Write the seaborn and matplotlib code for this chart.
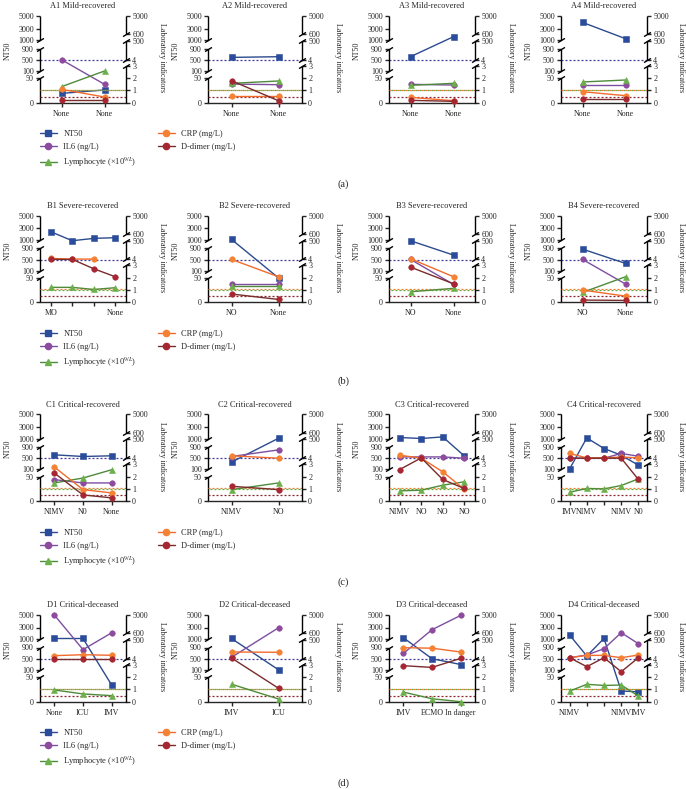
import numpy as np
import seaborn as sns
import matplotlib.pyplot as plt
from matplotlib.lines import Line2D
from matplotlib import transforms

sns.set_style("ticks")
plt.rcParams['font.family'] = ['Liberation Serif', 'DejaVu Serif']
plt.rcParams['mathtext.fontset'] = 'stix'

W, H = 686, 789
nan = np.nan

# --- DATA ---
titles = ["A1 Mild-recovered", "A2 Mild-recovered", "A3 Mild-recovered", "A4 Mild-recovered",
          "B1 Severe-recovered", "B2 Severe-recovered", "B3 Severe-recovered", "B4 Severe-recovered",
          "C1 Critical-recovered", "C2 Critical-recovered", "C3 Critical-recovered", "C4 Critical-recovered",
          "D1 Critical-deceased", "D2 Critical-deceased", "D3 Critical-deceased", "D4 Critical-deceased"]

xlabels = [["None", "None"], ["None", "None"], ["None", "None"], ["None", "None"],
           ["MO", "", "", "None"], ["NO", "None"], ["NO", "None"], ["NO", "None"],
           ["NIMV", "N0", "None"], ["NIMV", "NO"], ["NIMV", "NO", "NO", "NO"], ["IMV", "NIMV", "", "NIMV", "N0"],
           ["None", "ICU", "IMV"], ["IMV", "ICU"], ["IMV", "ECMO", "In danger"], ["NIMV", "", "", "NIMV", "IMV"]]

nt50 = [[19, 26], [588, 612], [612, 1600], [3980, 1260],
        [2400, 990, 1260, 1380], [1085, 50], [990, 658], [868, 363],
        [626, 567, 591], [367, 1070], [1205, 1034, 1308, 588], [122, 1137, 847, 612, 255],
        [1120, 1120, 34], [1120, 107], [1256, 507, 298], [1718, 602, 1137, 22, 20]]

crp = [[1.08, 0.46], [0.57, 0.57], [0.43, 0.16], [0.89, 0.57],
       [30, 12, 12, nan], [4.0, 2.08], [22, 2.08], [1.0, 0.51],
       [2.77, 0.94, 0.67], [68, 4.0], [84, 4.0, 2.38, 0.97], [129, 12, 12, 36, 12],
       [84, 110, 94], [182, 174], [296, 283, 182], [30, 92, 92, 30, 102]]

il6 = [[4.0, 1.49], [1.51, 1.46], [1.49, 1.43], [1.46, 1.46],
       [nan, nan, nan, nan], [1.49, 1.49], [4.0, 1.46], [4.0, 1.49],
       [1.75, 1.48, 1.48], [49, 224], [38, 38, 38, 4.0], [4.0, 4.0, 4.0, 129, 57],
       [5000, 245, 743], [41, 1940], [142, 1485, 4900], [30, 102, 269, 767, 402]]

ddimer = [[0.22, 0.22], [1.78, 0.16], [0.19, 0.11], [0.32, 0.32],
          [4.0, 4.0, 2.73, 2.08], [0.68, 0.24], [2.86, 1.51], [0.19, 0.16],
          [2.28, 0.51, 0.27], [1.21, 0.94], [2.57, 12, 1.76, 1.03], [4.0, 4.0, 4.0, 4.0, 1.76],
          [4.0, 4.0, 4.0], [22, 1.09], [2.92, 2.78, 12], [30, 2.84, 30, 2.43, 30]]

lymph = [[1.3, 2.57], [1.57, 1.76], [1.41, 1.57], [1.68, 1.84],
         [1.22, 1.22, 1.05, 1.19], [1.35, 1.35], [0.86, 1.14], [0.81, 2.08],
         [1.48, 1.88, 2.55], [0.94, 1.48], [0.84, 0.89, 1.30, 1.57], [0.73, 1.03, 1.0, 1.27, 1.81],
         [0.95, 0.63, 0.49], [1.42, 0.22], [0.78, 0.24, 0.0], [0.86, 1.41, 1.32, 1.35, 0.46]]

# broken axes: value -> visual height (piecewise linear)
LEFT_VALS = [-1e4, 0, 50, 100, 500, 900, 1000, 3000, 5000, 1e5]
LEFT_VIS = [-4900, 0, 24.5, 31.7, 42.8, 54.2, 62.5, 74.2, 86.7, 680]
RIGHT_VALS = [-1e4, 0, 1, 2, 3, 4, 500, 600, 5000, 1e5]
RIGHT_VIS = [-123300, 0, 12.33, 24.67, 37, 43, 61.7, 68.3, 86.7, 484]

LEFT_TICKS = [0, 50, 100, 500, 900, 1000, 3000, 5000]
RIGHT_TICKS = [0, 1, 2, 3, 4, 500, 600, 5000]
LEFT_SEGS = [(0, 50), (100, 900), (1000, 5000)]
RIGHT_SEGS = [(0, 3), (4, 500), (600, 5000)]


def left_fwd(y):
    return np.interp(y, LEFT_VALS, LEFT_VIS)


def left_inv(v):
    return np.interp(v, LEFT_VIS, LEFT_VALS)


def right_fwd(y):
    return np.interp(y, RIGHT_VALS, RIGHT_VIS)


def right_inv(v):
    return np.interp(v, RIGHT_VIS, RIGHT_VALS)


# name, data, marker, marker colour, line colour, axis
series = [
    ("NT50", nt50, "s", "#2B4C9B", "#2C4A8E", "left"),
    ("IL6 (ng/L)", il6, "o", "#8E4A9E", "#7D4E9F", "right"),
    ("Lymphocyte (×10$^{9/L}$)", lymph, "^", "#6BB04A", "#4E8B3A", "right"),
    ("CRP (mg/L)", crp, "o", "#F58233", "#F26A2C", "right"),
    ("D-dimer (mg/L)", ddimer, "o", "#A62631", "#7A2B2B", "right"),
]

col_x = [(40, 126), (208, 302), (389, 475), (561, 647)]
row_top = [16, 215.7, 414.5, 615]
AX_H = 86.7
legend_top = [130, 330, 529, 729]
panel_tag = [("(a)", 184), ("(b)", 381), ("(c)", 582), ("(d)", 783)]

fig = plt.figure(figsize=(W / 100, H / 100), dpi=100)

slash = [(-1, -0.6), (1, 0.6)]

for i in range(16):
    r, c = divmod(i, 4)
    x0, x1 = col_x[c]
    wpx = x1 - x0
    ax = fig.add_axes([x0 / W, 1 - (row_top[r] + AX_H) / H, wpx / W, AX_H / H])
    ax2 = ax.twinx()
    ax.set_yscale('function', functions=(left_fwd, left_inv))
    ax2.set_yscale('function', functions=(right_fwd, right_inv))

    n = len(xlabels[i])
    pos = np.arange(n)

    # reference (normal range) lines
    ax.axhline(500, color="#3F3C9A", lw=0.9, ls=(0, (1.6, 1.6)))
    ax2.axhline(1.05, color="#F47B2A", lw=0.9, ls=(0, (1.6, 1.6)))
    ax2.axhline(1.0, color="#5FA845", lw=0.9, ls=(1.6, (1.6, 1.6)))
    ax2.axhline(0.5, color="#8B2530", lw=0.9, ls=(0, (1.6, 1.6)))

    for name, data, mk, mc, lc, side in series:
        y = np.array(data[i], dtype=float)
        if np.all(np.isnan(y)):
            continue
        target = ax if side == "left" else ax2
        sns.lineplot(x=pos, y=y, ax=target, color=lc, lw=1.0, marker=mk,
                     markersize=4 if mk != "^" else 4.5, markerfacecolor=mc,
                     markeredgecolor=mc, markeredgewidth=0.4, errorbar=None,
                     legend=False, clip_on=False, zorder=3)

    ax.set_ylim(0, 5000)
    ax2.set_ylim(0, 5000)
    ax.set_xlim(-0.5, n - 0.5)

    for s in ["left", "right", "top"]:
        ax.spines[s].set_visible(False)
    for s in ["left", "right", "top", "bottom"]:
        ax2.spines[s].set_visible(False)
    ax.spines["bottom"].set_linewidth(1.0)

    # broken spines
    tl = transforms.blended_transform_factory(ax.transAxes, ax.transData)
    for lo, hi in LEFT_SEGS:
        ax.plot([0, 0], [lo, hi], transform=tl, color="black", lw=1.0,
                clip_on=False, solid_capstyle="butt")
    ax.plot([0, 0, 0, 0], [50, 100, 900, 1000], transform=tl, ls="none",
            marker=slash, markersize=5, color="black", mew=1.0, clip_on=False)
    tr = transforms.blended_transform_factory(ax2.transAxes, ax2.transData)
    for lo, hi in RIGHT_SEGS:
        ax2.plot([1, 1], [lo, hi], transform=tr, color="black", lw=1.0,
                 clip_on=False, solid_capstyle="butt")
    ax2.plot([1, 1, 1, 1], [3, 4, 500, 600], transform=tr, ls="none",
             marker=slash, markersize=5, color="black", mew=1.0, clip_on=False)

    ax.set_yticks(LEFT_TICKS)
    ax.set_yticklabels([str(t) for t in LEFT_TICKS])
    ax2.set_yticks(RIGHT_TICKS)
    ax2.set_yticklabels([str(t) for t in RIGHT_TICKS])
    ax.yaxis.set_minor_locator(plt.NullLocator())
    ax2.yaxis.set_minor_locator(plt.NullLocator())
    ax.tick_params(axis="y", direction="out", length=3, width=1, labelsize=5.8, pad=1.5)
    ax2.tick_params(axis="y", direction="out", length=3, width=1, labelsize=5.8, pad=1.5)

    ax.set_xticks(pos)
    ax.set_xticklabels(xlabels[i])
    ax.tick_params(axis="x", direction="out", length=3, width=1, labelsize=5.8, pad=2)

    ax.set_xlabel("")
    ax.set_ylabel("NT50", fontsize=5.8, rotation=90, ha="center", va="center")
    ax.yaxis.set_label_coords(-32 / wpx, 0.6)
    ax2.set_ylabel("Laboratory indicators", fontsize=5.8, rotation=270, ha="center", va="center")
    ax2.yaxis.set_label_coords(1 + (34 if c == 3 else 36) / wpx, 0.52)

    ax.set_title(titles[i], fontsize=6, pad=5.5)

# legends, one per row
handles = []
labels = []
for name, data, mk, mc, lc, side in series:
    handles.append(Line2D([], [], color=lc, lw=1.0, marker=mk, markersize=4.5,
                          markerfacecolor=mc, markeredgecolor=mc))
    labels.append(name)

for r in range(4):
    fig.legend(handles, labels, loc="upper left",
               bbox_to_anchor=(40 / W, 1 - legend_top[r] / H), ncol=2,
               frameon=False, fontsize=6, handlelength=2.0, handletextpad=0.8,
               columnspacing=2.6, labelspacing=0.55, borderpad=0, borderaxespad=0)

for tag, ypx in panel_tag:
    fig.text(343 / W, 1 - ypx / H, tag, ha="center", va="center", fontsize=7.5)

fig.savefig("out.png", dpi=100)
